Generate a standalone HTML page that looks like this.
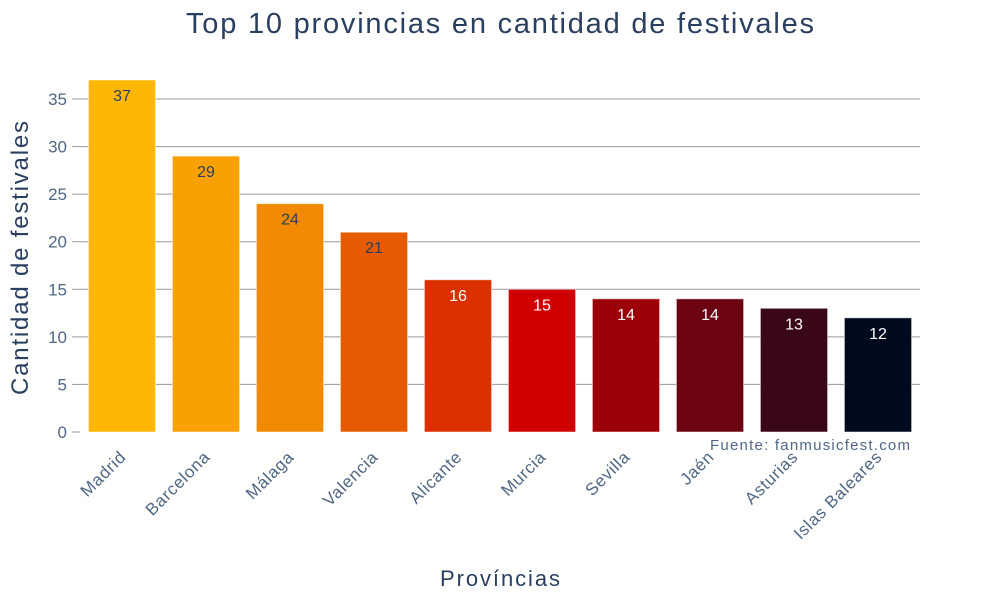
<!DOCTYPE html>
<html><head><meta charset="utf-8"><style>body{margin:0;background:#fff}svg{font-family:"Liberation Sans",sans-serif}</style></head>
<body>
<svg id="c" width="1000" height="600">
<text x="500" y="33" text-anchor="middle" font-size="29" fill="#2a3f5f" textLength="628" lengthAdjust="spacing">Top 10 provincias en cantidad de festivales</text>
<text transform="translate(28,258) rotate(-90)" text-anchor="middle" font-size="24" fill="#2a3f5f" textLength="274" lengthAdjust="spacing">Cantidad de festivales</text>
<text x="500" y="586" text-anchor="middle" font-size="22" fill="#2a3f5f" textLength="120" lengthAdjust="spacing">Províncias</text>
<text x="910" y="450" text-anchor="end" font-size="15" fill="#506784" textLength="200" lengthAdjust="spacing">Fuente: fanmusicfest.com</text>
<g id="g"></g><g id="b"></g>
</svg>
<script>
const categories=["Madrid","Barcelona","Málaga","Valencia","Alicante","Murcia","Sevilla","Jaén","Asturias","Islas Baleares"];
const values=[37,29,24,21,16,15,14,14,13,12];
const colors=["#fdb704","#f9a002","#f18a01","#e65b02","#dd3001","#d00000","#9c0009","#6b0310","#3a0718","#000a1f"];
const yTicks=[0,5,10,15,20,25,30,35];
const NS="http://www.w3.org/2000/svg";
const x0=80,x1=920,yb=432,pu=(432-99)/35;
const y=v=>yb-v*pu;
const band=(x1-x0)/categories.length;
const xc=i=>x0+band*(i+0.5);
function mk(t,a,p){const e=document.createElementNS(NS,t);for(const k in a)e.setAttribute(k,a[k]);p.appendChild(e);return e;}
const g=document.getElementById('g'),b=document.getElementById('b');
yTicks.forEach(t=>{
 if(t>0){const l=mk('line',{x1:x0,x2:x1,y1:y(t),y2:y(t),stroke:'#999','stroke-width':1},g);
 
 }
 const tk=mk('line',{x1:72,x2:80,y1:y(t),y2:y(t),stroke:'#999'},g);
 
 
 const tx=mk('text',{x:67,y:y(t)+6,'text-anchor':'end','font-size':17,fill:'#506784'},g);tx.textContent=t;
 
 
});
categories.forEach((c,i)=>{
 const w=band*0.8,v=values[i];
 const r=mk('rect',{x:xc(i)-w/2,y:y(v),width:w,height:v*pu,fill:colors[i],stroke:'rgba(255,255,255,0.5)','stroke-width':1},b);
 
 
 const vt=mk('text',{x:xc(i),y:y(v)+21,'text-anchor':'middle','font-size':16,fill:i<4?'#2a3f5f':'#fff'},b);vt.textContent=v;
 
 
 const lt=mk('text',{transform:`translate(${xc(i)+5},458) rotate(-45)`,'text-anchor':'end','font-size':17,'letter-spacing':0.7,fill:'#506784'},b);lt.textContent=c;
 
 
});
</script>
</body></html>
